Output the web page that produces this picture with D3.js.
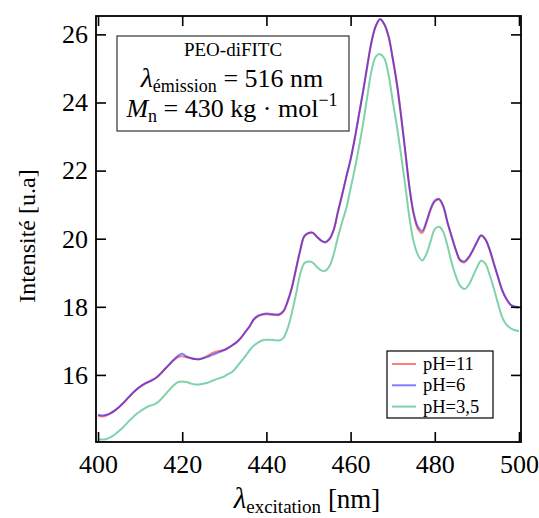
<!DOCTYPE html>
<html>
<head>
<meta charset="utf-8">
<script src="https://cdn.jsdelivr.net/npm/d3@7"></script>
<style>
  html, body { margin: 0; padding: 0; background: #fff; }
  svg { display: block; font-family: "Liberation Serif", "DejaVu Serif", serif; }
</style>
</head>
<body>
<svg id="chart" width="539" height="518"></svg>
<script>
// ---- Data ----
const wavelengths = d3.range(400, 501, 1);
const pH11 = [
  14.80,14.78,14.81,14.87,14.95,15.05,15.17,15.30,15.43,15.55,
  15.65,15.73,15.79,15.85,15.93,16.05,16.18,16.31,16.43,16.52,
  16.55,16.52,16.49,16.47,16.46,16.50,16.56,16.63,16.68,16.71,
  16.74,16.80,16.88,16.97,17.09,17.26,17.42,17.62,17.72,17.77,
  17.78,17.77,17.76,17.76,17.85,18.13,18.53,19.08,19.63,20.06,
  20.16,20.17,20.05,19.94,19.89,19.99,20.26,20.79,21.29,21.82,
  22.33,22.95,23.65,24.35,25.10,25.80,26.25,26.44,26.30,25.95,
  25.30,24.55,23.60,22.55,21.48,20.70,20.28,20.17,20.46,20.84,
  21.09,21.15,20.94,20.47,20.05,19.66,19.36,19.30,19.43,19.64,
  19.89,20.09,19.98,19.68,19.27,18.87,18.48,18.22,18.05,17.99,
  17.97
];
const pH6 = [
  14.83,14.81,14.83,14.88,14.96,15.06,15.18,15.31,15.44,15.56,
  15.66,15.74,15.80,15.86,15.94,16.06,16.19,16.32,16.45,16.56,
  16.62,16.54,16.50,16.47,16.46,16.49,16.53,16.58,16.63,16.68,
  16.73,16.80,16.88,16.97,17.10,17.27,17.43,17.64,17.74,17.78,
  17.80,17.79,17.78,17.78,17.87,18.15,18.55,19.10,19.65,20.08,
  20.17,20.18,20.06,19.95,19.90,20.00,20.27,20.80,21.30,21.83,
  22.33,22.95,23.65,24.35,25.10,25.80,26.25,26.45,26.30,25.95,
  25.30,24.55,23.60,22.55,21.50,20.75,20.35,20.23,20.50,20.88,
  21.12,21.17,20.97,20.50,20.08,19.68,19.38,19.33,19.45,19.66,
  19.90,20.10,19.99,19.70,19.29,18.89,18.50,18.24,18.07,18.01,
  17.99
];
const pH35 = [
  14.12,14.10,14.12,14.17,14.25,14.35,14.47,14.60,14.72,14.84,
  14.93,15.01,15.08,15.12,15.18,15.29,15.43,15.57,15.70,15.79,
  15.81,15.79,15.75,15.72,15.72,15.74,15.77,15.82,15.87,15.91,
  15.96,16.03,16.10,16.24,16.40,16.55,16.72,16.86,16.95,17.01,
  17.03,17.03,17.02,17.01,17.08,17.35,17.80,18.35,18.95,19.28,
  19.33,19.30,19.17,19.07,19.06,19.20,19.55,20.05,20.50,20.90,
  21.48,22.05,22.70,23.40,24.20,24.95,25.35,25.42,25.30,24.82,
  24.05,23.30,22.45,21.55,20.60,19.90,19.52,19.36,19.55,19.92,
  20.28,20.35,20.20,19.80,19.30,18.90,18.62,18.52,18.63,18.88,
  19.15,19.35,19.27,18.95,18.55,18.10,17.70,17.48,17.37,17.31,
  17.29
];
const seriesNames = ["pH=11", "pH=6", "pH=3,5"];
const seriesColors = ["rgba(255,0,0,0.5)", "rgba(0,0,255,0.5)", "rgba(0,165,85,0.5)"];
const xTicks = [400, 420, 440, 460, 480, 500];
const yTicks = [16, 18, 20, 22, 24, 26];

// ---- Layout ----
const svg = d3.select("#chart");
const L = 96, T = 16, R = 521, B = 442;
const x = d3.scaleLinear().domain([399.52, 500.48]).range([L, R]);
const y = d3.scaleLinear().domain([14.03, 26.54]).range([B, T]);

const plot = svg.append("g");
plot.append("clipPath").attr("id", "clip")
  .append("rect").attr("x", L).attr("y", T).attr("width", R - L).attr("height", B - T);

const line = d3.line().x(d => x(d[0])).y(d => y(d[1])).curve(d3.curveCatmullRom.alpha(0.5));
const allSeries = [pH11, pH6, pH35];
const order = [2, 0, 1];
order.forEach(i => {
  plot.append("path")
    .attr("clip-path", "url(#clip)")
    .attr("d", line(wavelengths.map((w, j) => [w, allSeries[i][j]])))
    .attr("fill", "none")
    .attr("stroke", seriesColors[i])
    .attr("stroke-width", 2)
    .attr("stroke-linejoin", "round");
});

// ---- Axes (inward ticks on all four sides) ----
const tickLen = 10;
const styleAxis = g => {
  g.select(".domain").remove();
  g.selectAll(".tick line").attr("stroke", "#000").attr("stroke-width", 1.6);
  g.selectAll(".tick text").attr("fill", "#000").attr("font-size", 26)
    .attr("font-family", "Liberation Serif, serif");
};
svg.append("g").attr("transform", `translate(0,${B})`)
  .call(d3.axisBottom(x).tickValues(xTicks).tickSize(-tickLen).tickPadding(13).tickFormat(d3.format("d")))
  .call(styleAxis);
svg.append("g").attr("transform", `translate(0,${T})`)
  .call(d3.axisTop(x).tickValues(xTicks).tickSize(-tickLen).tickFormat(""))
  .call(styleAxis);
svg.append("g").attr("transform", `translate(${L},0)`)
  .call(d3.axisLeft(y).tickValues(yTicks).tickSize(-tickLen).tickPadding(8).tickFormat(d3.format("d")))
  .call(styleAxis);
svg.append("g").attr("transform", `translate(${R},0)`)
  .call(d3.axisRight(y).tickValues(yTicks).tickSize(-tickLen).tickFormat(""))
  .call(styleAxis);

// frame
svg.append("rect").attr("x", L).attr("y", T).attr("width", R - L).attr("height", B - T)
  .attr("fill", "none").attr("stroke", "#000").attr("stroke-width", 1.8);

// ---- Axis labels ----
const xl = svg.append("text").attr("x", 307).attr("y", 508).attr("text-anchor", "middle")
  .attr("font-size", 27).attr("fill", "#000");
xl.append("tspan").attr("font-style", "italic").attr("font-size", 29).text("λ");
xl.append("tspan").attr("font-size", 19).attr("dy", 5).text("excitation");
xl.append("tspan").attr("dy", -5).text(" [nm]");

svg.append("text")
  .attr("transform", "translate(35,236) rotate(-90)")
  .attr("text-anchor", "middle").attr("font-size", 24).attr("fill", "#000")
  .text("Intensité [u.a]");

// ---- Annotation box ----
svg.append("rect").attr("x", 117).attr("y", 36).attr("width", 232).attr("height", 95)
  .attr("fill", "#fff").attr("stroke", "#333").attr("stroke-width", 1.2);
svg.append("text").attr("x", 233).attr("y", 56).attr("text-anchor", "middle")
  .attr("font-size", 19).attr("fill", "#000").text("PEO-diFITC");
const l2 = svg.append("text").attr("x", 232).attr("y", 87).attr("text-anchor", "middle")
  .attr("font-size", 26).attr("fill", "#000");
l2.append("tspan").attr("font-style", "italic").attr("font-size", 28).text("λ");
l2.append("tspan").attr("font-size", 18).attr("dy", 5).text("émission");
l2.append("tspan").attr("dy", -5).text(" = 516 nm");
const l3 = svg.append("text").attr("x", 232).attr("y", 117).attr("text-anchor", "middle")
  .attr("font-size", 26).attr("fill", "#000");
l3.append("tspan").attr("font-style", "italic").text("M");
l3.append("tspan").attr("font-size", 18).attr("dy", 5).text("n");
l3.append("tspan").attr("dy", -5).text(" = 430 kg · mol");
l3.append("tspan").attr("font-size", 18).attr("dy", -11).text("−1");

// ---- Legend ----
const lg = svg.append("g");
lg.append("rect").attr("x", 387).attr("y", 351).attr("width", 106).attr("height", 67)
  .attr("fill", "#fff").attr("stroke", "#000").attr("stroke-width", 1.2);
seriesNames.forEach((name, i) => {
  const yy = 364 + i * 21.3;
  lg.append("line").attr("x1", 392).attr("x2", 416).attr("y1", yy).attr("y2", yy)
    .attr("stroke", seriesColors[i]).attr("stroke-width", 2);
  lg.append("text").attr("x", 423).attr("y", yy + 6).attr("font-size", 18.5)
    .attr("fill", "#000").text(name);
});
</script>
</body>
</html>
